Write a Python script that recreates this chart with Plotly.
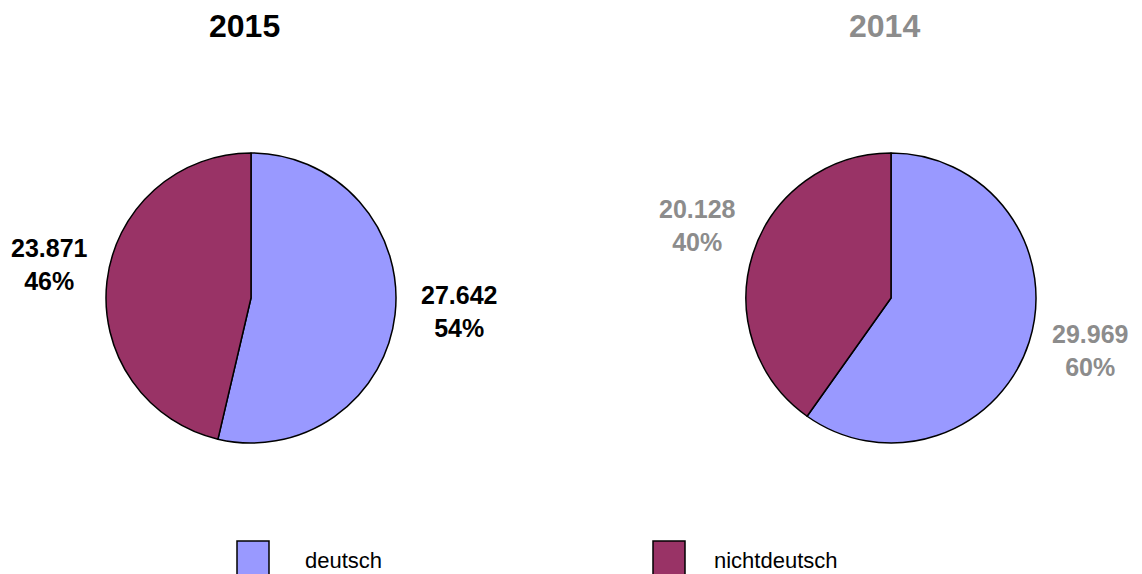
import math
import plotly.graph_objects as go

W, H = 1142, 574

categories = ["deutsch", "nichtdeutsch"]
years = ["2015", "2014"]
values_2015 = [27642, 23871]
values_2014 = [29969, 20128]
colors = ["#9999FF", "#993366"]
title_colors = ["#000000", "#8C8C8C"]

FONT = "Liberation Sans, Arial, sans-serif"

# layout geometry (pixels)
centers = [(251, 298), (891, 298)]
radius = 145
label_r = 206


def px(x):
    return x / W


def py(y):
    return 1 - y / H


def de_num(v):
    return f"{v:,}".replace(",", ".")


fig = go.Figure()
annotations = []
shapes = []

for i, (year, vals) in enumerate(zip(years, [values_2015, values_2014])):
    cx, cy = centers[i]
    fig.add_trace(go.Pie(
        labels=categories,
        values=vals,
        sort=False,
        direction="clockwise",
        rotation=0,
        marker=dict(colors=colors, line=dict(color="#000000", width=1.5)),
        textinfo="none",
        hoverinfo="label+value+percent",
        showlegend=False,
        domain=dict(x=[px(cx - radius), px(cx + radius)],
                    y=[py(cy + radius), py(cy - radius)]),
    ))
    total = sum(vals)
    cum = 0
    for v in vals:
        frac = v / total
        mid = (cum + frac / 2) * 2 * math.pi
        cum += frac
        lx = cx + label_r * math.sin(mid) + 3
        ly = cy - label_r * math.cos(mid) - 10
        annotations.append(dict(
            x=px(lx), y=py(ly), xref="paper", yref="paper",
            text=f"<b>{de_num(v)}<br>{round(frac * 100)}%</b>",
            showarrow=False, align="center",
            xanchor="center", yanchor="middle",
            font=dict(family=FONT, size=25, color=title_colors[i]),
        ))
    annotations.append(dict(
        x=px(cx - 7), y=py(26), xref="paper", yref="paper",
        text=f"<b>{year}</b>", showarrow=False,
        xanchor="center", yanchor="middle",
        font=dict(family=FONT, size=32, color=title_colors[i]),
    ))

# custom legend
legend_items = [(237, 303), (653, 712)]
for (sx, tx), cat, col in zip(legend_items, categories, colors):
    shapes.append(dict(
        type="rect", xref="paper", yref="paper",
        x0=px(sx), x1=px(sx + 32), y0=py(575), y1=py(541),
        fillcolor=col, line=dict(color="#000000", width=1.5),
    ))
    annotations.append(dict(
        x=px(tx), y=py(560), xref="paper", yref="paper",
        text=cat, showarrow=False, xanchor="left", yanchor="middle",
        font=dict(family=FONT, size=22, color="#000000"),
    ))

fig.update_layout(
    width=W, height=H,
    margin=dict(l=0, r=0, t=0, b=0),
    paper_bgcolor="#FFFFFF",
    plot_bgcolor="#FFFFFF",
    annotations=annotations,
    shapes=shapes,
    font=dict(family=FONT),
)

fig.write_html(
    "out.html",
    config={"displayModeBar": False},
    post_script="document.body.style.margin='0';document.body.style.overflow='hidden';",
)
